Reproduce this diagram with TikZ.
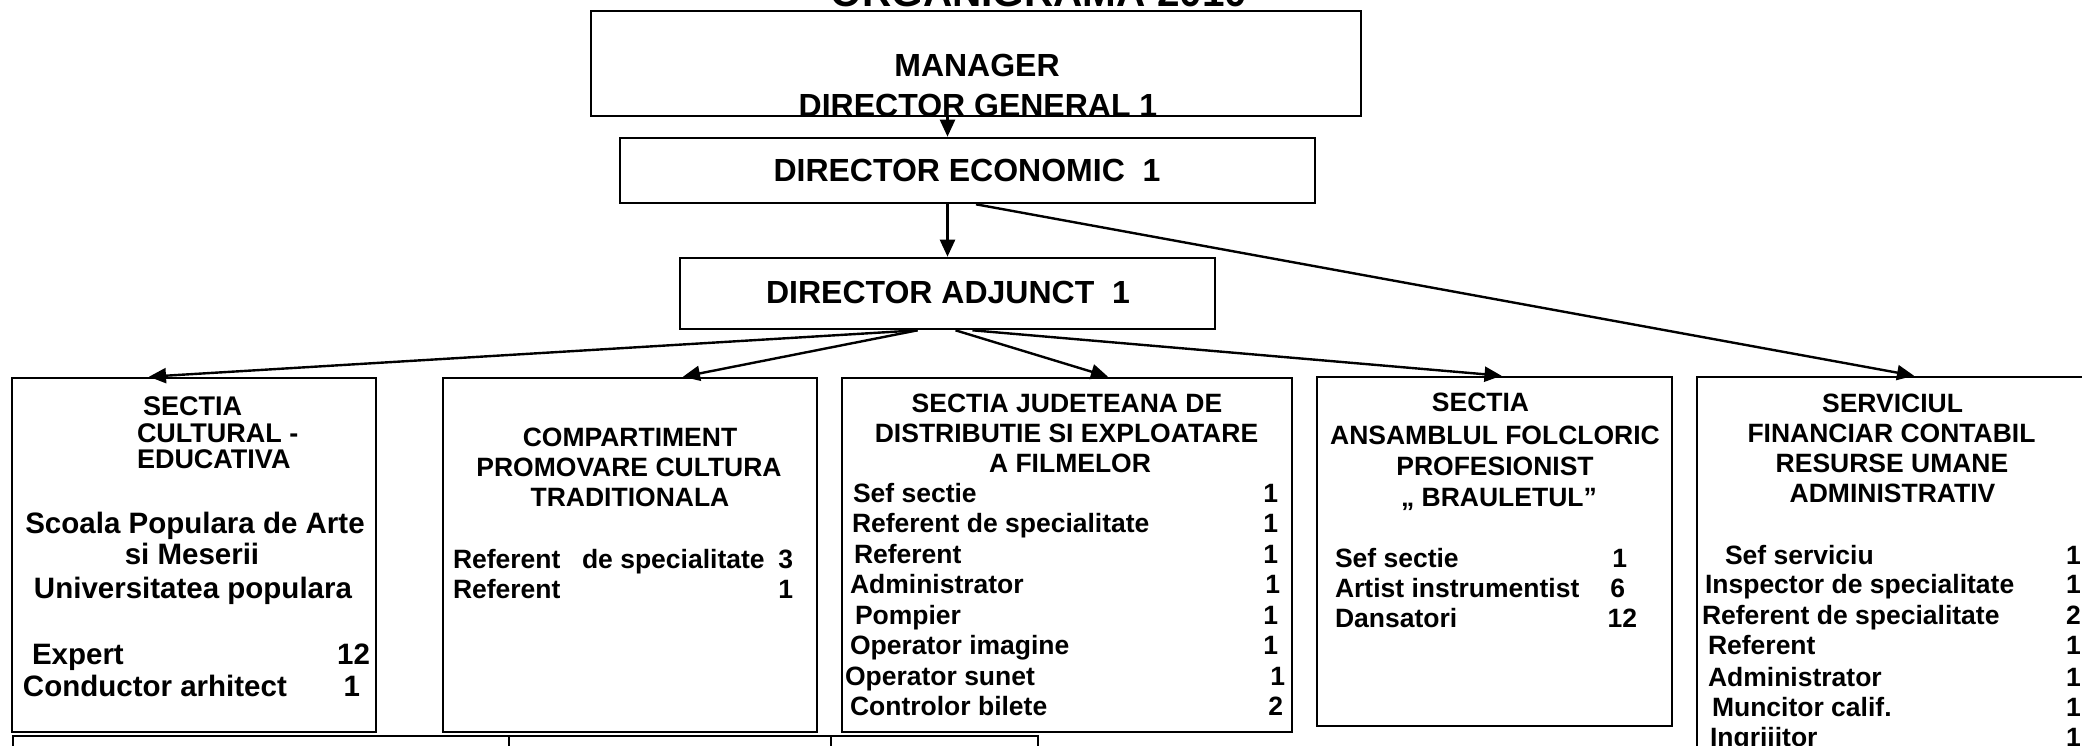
\documentclass[tikz,border=0pt]{standalone}
\usepackage{fontspec}
\setmainfont{Liberation Sans}
\usetikzlibrary{arrows.meta}
\begin{document}
\begin{tikzpicture}[x=1pt,y=-1pt,
  box/.style={draw, line width=2.6pt, inner sep=0pt},
  conn/.style={line width=2.4pt, -{Triangle[length=17pt,width=15pt]}},
  tx/.style={inner sep=0pt, outer sep=0pt},
  big/.style={tx, font=\fontsize{32}{36}\selectfont\bfseries},
  ta/.style={tx, font=\fontsize{27}{30}\selectfont\bfseries},
  tb/.style={tx, font=\fontsize{29.5}{33}\selectfont\bfseries},
  tc/.style={tx, font=\fontsize{26.5}{30}\selectfont\bfseries},
  tt/.style={tx, font=\fontsize{40.5}{44}\selectfont\bfseries},
  c/.style={anchor=base},
  l/.style={anchor=base west},
  r/.style={anchor=base east}
]
\useasboundingbox (0,0) rectangle (2082,745);
\clip (0,0) rectangle (2082,745);
\fill[white] (0,0) rectangle (2082,745);

% title (cut off at top)
\node[tt,c] (title) at (1039,6) {ORGANIGRAMA 2010};

% boxes
\node[box, minimum width=770pt, minimum height=105pt] (mgr) at (976,63.5) {};
\node[box, minimum width=695pt, minimum height=65pt] (de) at (967.5,170.5) {};
\node[box, minimum width=535pt, minimum height=71pt] (da) at (947.5,293.5) {};
\node[box, minimum width=364pt, minimum height=354pt] (b1) at (194,555) {};
\node[box, minimum width=374pt, minimum height=354pt] (b2) at (630,555) {};
\node[box, minimum width=450pt, minimum height=354pt] (b3) at (1067,555) {};
\node[box, minimum width=355pt, minimum height=349pt] (b4) at (1494.5,551.5) {};
\node[box, minimum width=503pt, minimum height=423pt] (b5) at (1948.5,588.5) {};

% bottom table (cut off)
\draw[line width=2pt] (13,760) -- (13,736) -- (1038,736) -- (1038,760);
\draw[line width=2pt] (509,736) -- (509,760);
\draw[line width=2pt] (831,736) -- (831,760);

% connectors
\draw[conn] (mgr.south -| da.north) -- (de.north -| da.north);
\draw[conn] (de.south -| da.north) -- (da.north);
\draw[conn] (de.south -| mgr.south) -- ([xshift=-34.5pt]b5.north);
\draw[conn] ([xshift=-30pt]da.south) -- ([xshift=-45pt]b1.north);
\draw[conn] ([xshift=-30pt]da.south) -- ([xshift=53pt]b2.north);
\draw[conn] ([xshift=8pt]da.south) -- ([xshift=41pt]b3.north);
\draw[conn] ([xshift=25pt]da.south) -- ([xshift=7pt]b4.north);

% top texts
\node[big,c] (mgr1) at (977,76) {MANAGER};
\node[big,c] (mgr2) at (978,116) {DIRECTOR GENERAL 1};
\node[big,c] (de1) at (967,181.5) {DIRECTOR ECONOMIC~~1};
\node[big,c] (da1) at (948,303.5) {DIRECTOR ADJUNCT~~1};

% box 1
\node[ta,l] (b1t1) at (143,415) {SECTIA};
\node[ta,l] (b1t2) at (137,442) {CULTURAL -};
\node[ta,l] (b1t3) at (137,468) {EDUCATIVA};
\node[tb,c] (b1s1) at (195,533) {Scoala Populara de Arte};
\node[tb,c] (b1s2) at (192,564) {si Meserii};
\node[tb,c] (b1s3) at (193,598) {Universitatea populara};
\node[tb,l] (b1i1) at (32,664) {Expert};
\node[tb,r] (b1n1) at (370,664) {12};
\node[tb,l] (b1i2) at (23,696) {Conductor arhitect};
\node[tb,r] (b1n2) at (360,696) {1};

% box 2
\node[tc,c] (b2t1) at (630,446) {COMPARTIMENT};
\node[tc,c] (b2t2) at (629,476) {PROMOVARE CULTURA};
\node[tc,c] (b2t3) at (630,506) {TRADITIONALA};
\node[tc,l] (b2i1) at (453,568) {Referent};
\node[tc,l] (b2i1b) at (582,568) {de specialitate};
\node[tc,r] (b2n1) at (793,568) {3};
\node[tc,l] (b2i2) at (453,598) {Referent};
\node[tc,r] (b2n2) at (793,598) {1};

% box 3
\node[tc,c] (b3t1) at (1067,412) {SECTIA JUDETEANA DE};
\node[tc,c] (b3t2) at (1066.5,442) {DISTRIBUTIE SI EXPLOATARE};
\node[tc,c] (b3t3) at (1070,472) {A FILMELOR};
\node[tc,l] (b3i1) at (853,502) {Sef sectie};
\node[tc,r] (b3n1) at (1278,502) {1};
\node[tc,l] (b3i2) at (852,532.5) {Referent de specialitate};
\node[tc,r] (b3n2) at (1278,532.5) {1};
\node[tc,l] (b3i3) at (854,563) {Referent};
\node[tc,r] (b3n3) at (1278,563) {1};
\node[tc,l] (b3i4) at (850,593.5) {Administrator};
\node[tc,r] (b3n4) at (1280,593.5) {1};
\node[tc,l] (b3i5) at (855,624) {Pompier};
\node[tc,r] (b3n5) at (1278,624) {1};
\node[tc,l] (b3i6) at (850,654.5) {Operator imagine};
\node[tc,r] (b3n6) at (1278,654.5) {1};
\node[tc,l] (b3i7) at (845,685) {Operator sunet};
\node[tc,r] (b3n7) at (1285,685) {1};
\node[tc,l] (b3i8) at (850,715.5) {Controlor bilete};
\node[tc,r] (b3n8) at (1283,715.5) {2};

% box 4
\node[tc,c] (b4t1) at (1480.5,411) {SECTIA};
\node[tc,c] (b4t2) at (1495,444) {ANSAMBLUL FOLCLORIC};
\node[tc,c] (b4t3) at (1495,475) {PROFESIONIST};
\node[tc,c] (b4t4) at (1499,506) {„ BRAULETUL”};
\node[tc,l] (b4i1) at (1335,567.5) {Sef sectie};
\node[tc,r] (b4n1) at (1627,567.5) {1};
\node[tc,l] (b4i2) at (1335,597.5) {Artist instrumentist};
\node[tc,r] (b4n2) at (1625,597.5) {6};
\node[tc,l] (b4i3) at (1335,627.5) {Dansatori};
\node[tc,r] (b4n3) at (1637,627.5) {12};

% box 5
\node[tc,c] (b5t1) at (1892.5,412) {SERVICIUL};
\node[tc,c] (b5t2) at (1891.5,442) {FINANCIAR CONTABIL};
\node[tc,c] (b5t3) at (1892,472) {RESURSE UMANE};
\node[tc,c] (b5t4) at (1892.5,502) {ADMINISTRATIV};
\node[tc,l] (b5i1) at (1725,564.5) {Sef serviciu};
\node[tc,l] (b5n1) at (2066,564.5) {1};
\node[tc,l] (b5i2) at (1705,593.5) {Inspector de specialitate};
\node[tc,l] (b5n2) at (2066,593.5) {1};
\node[tc,l] (b5i3) at (1702,624.5) {Referent de specialitate};
\node[tc,l] (b5n3) at (2066,624.5) {2};
\node[tc,l] (b5i4) at (1708,654.5) {Referent};
\node[tc,l] (b5n4) at (2066,654.5) {1};
\node[tc,l] (b5i5) at (1708,686.5) {Administrator};
\node[tc,l] (b5n5) at (2066,686.5) {1};
\node[tc,l] (b5i6) at (1712,716.5) {Muncitor calif.};
\node[tc,l] (b5n6) at (2066,716.5) {1};
\node[tc,l] (b5i7) at (1710,746.5) {Ingrijitor};
\node[tc,l] (b5n7) at (2066,746.5) {1};
\end{tikzpicture}
\end{document}
